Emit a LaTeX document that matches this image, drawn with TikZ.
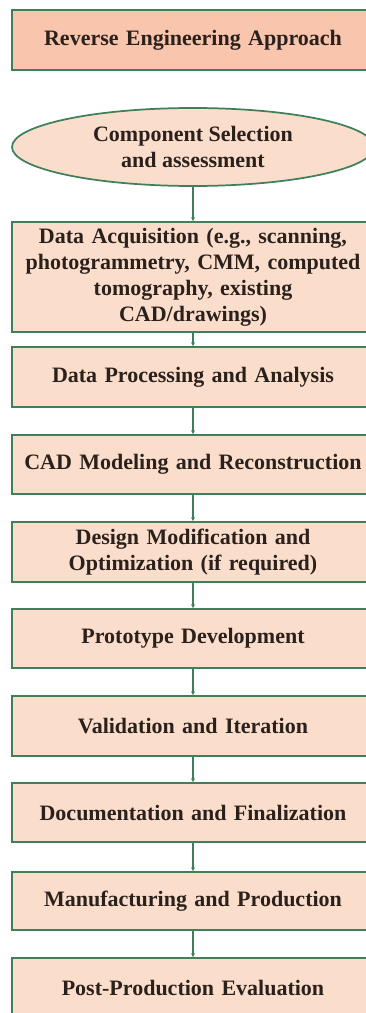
\documentclass[tikz,border=0pt]{standalone}
\usepackage{fontspec}
\setmainfont{Liberation Serif}
\usetikzlibrary{shapes.geometric,arrows.meta}
\definecolor{boxgreen}{HTML}{3F7F5A}
\definecolor{titlefill}{HTML}{F9C5AC}
\definecolor{stepfill}{HTML}{FBDDCC}
\definecolor{inkbrown}{HTML}{2B211C}
\tikzset{
    stepbox/.style={draw=boxgreen, line width=1.3pt, fill=stepfill, text=inkbrown,
        minimum width=271.5pt, text width=266pt, align=center, inner sep=0pt,
        font=\fontsize{16.5}{19.5}\selectfont\bfseries},
    link/.style={draw=boxgreen, line width=1pt, -{Stealth[length=3pt,width=3pt]}}
}
\begin{document}
\begin{tikzpicture}[x=0.75pt,y=0.75pt,yscale=-1,xscale=1]
        \useasboundingbox (0,0) rectangle (365,1013);

        \node [stepbox, fill=titlefill, minimum height=45pt] (title) at (193,40) {Reverse Engineering Approach};
        \node [stepbox, ellipse, text width=, minimum height=58.5pt] (select) at (193,147) {Component Selection\\and assessment};

        \node [stepbox, minimum height=82.5pt] (acquire) at (193,277) {Data Acquisition (e.g., scanning,\\photogrammetry, CMM, computed\\tomography, existing\\CAD/drawings)};
        \node [stepbox, minimum height=45pt] (process) at (193,377) {Data Processing and Analysis};
        \node [stepbox, minimum height=44.25pt] (cad) at (193,464.5) {CAD Modeling and Reconstruction};
        \node [stepbox, minimum height=45pt] (modify) at (193,552) {Design Modification and\\Optimization (if required)};
        \node [stepbox, minimum height=44.25pt] (proto) at (193,638.5) {Prototype Development};
        \node [stepbox, minimum height=45pt] (valid) at (193,726) {Validation and Iteration};
        \node [stepbox, minimum height=44.25pt] (docu) at (193,812.5) {Documentation and Finalization};
        \node [stepbox, minimum height=43.5pt] (manu) at (193,901) {Manufacturing and Production};
        \node [stepbox, minimum height=45pt] (post) at (193,988) {Post-Production Evaluation};

        \foreach \a/\b in {select/acquire,acquire/process,process/cad,cad/modify,modify/proto,proto/valid,valid/docu,docu/manu,manu/post}{
            \draw [link] (\a) -- (\b);
        }
    \end{tikzpicture}
\end{document}
